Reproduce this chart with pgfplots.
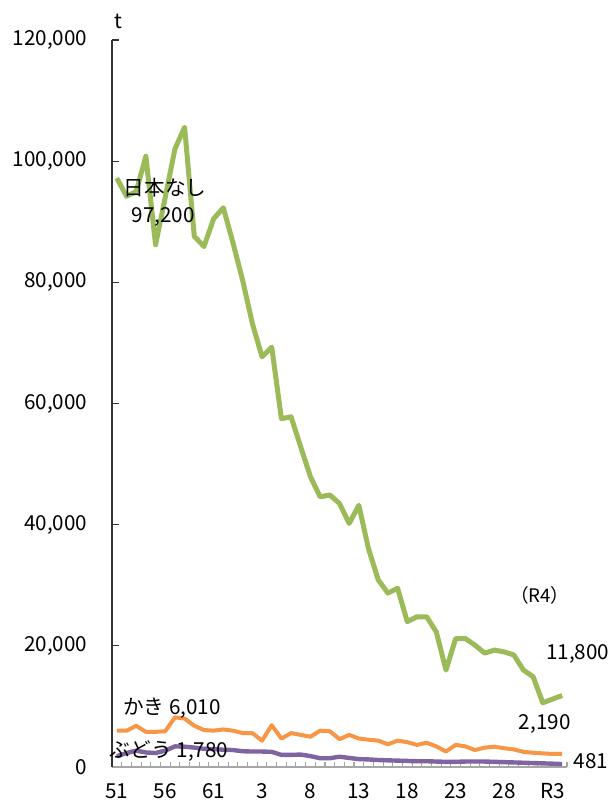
\documentclass[border=0pt]{standalone}
\usepackage{fontspec}
\setmainfont{Noto Sans CJK JP}
\usepackage{pgfplots}
\pgfplotsset{compat=1.18}
\usepackage{pgfplotstable}
\definecolor{nashi}{HTML}{9BBB59}
\definecolor{kaki}{HTML}{F79646}
\definecolor{budo}{HTML}{8064A2}

% i = 0 is S51 (1976), i = 46 is R4 (2022)
\pgfplotstableread{
i nashi kaki budo
0 97200 6010 1780
1 94200 6000 2300
2 95000 6800 2700
3 100800 5800 2400
4 86200 5800 2300
5 94000 5900 2700
6 102000 8200 3400
7 105600 8000 3350
8 87600 6800 3200
9 85900 6100 3000
10 90500 6000 2950
11 92300 6200 2850
12 86500 6000 2800
13 80300 5600 2600
14 73200 5600 2550
15 67700 4350 2550
16 69300 6900 2500
17 57500 4700 2000
18 57800 5600 2000
19 52800 5300 2050
20 47900 5000 1800
21 44600 6000 1450
22 44900 5900 1450
23 43500 4600 1700
24 40200 5300 1500
25 43200 4700 1300
26 36000 4500 1250
27 30900 4350 1150
28 28700 3750 1100
29 29500 4350 1050
30 24000 4100 1000
31 24800 3650 950
32 24800 4000 950
33 22300 3400 900
34 16000 2550 850
35 21200 3650 850
36 21200 3400 900
37 20100 2800 900
38 18800 3200 900
39 19300 3350 850
40 19000 3100 800
41 18500 2900 750
42 16000 2500 700
43 14900 2350 650
44 10600 2250 600
45 11200 2150 550
46 11800 2190 481
}\crops

\begin{document}
\begin{tikzpicture}
\begin{axis}[
  scale only axis,
  width=341.25pt, height=545.25pt,
  xmin=-0.5, xmax=46.5,
  ymin=0, ymax=120000,
  axis x line*=bottom, axis y line*=left,
  x axis line style={draw=gray!70, line width=1pt},
  y axis line style={draw=black!80, line width=0.8pt},
  tick align=inside,
  xtick={0,5,...,45},
  xticklabels={51,56,61,3,8,13,18,23,28,R3},
  major x tick style={draw=none},
  minor xtick={-0.5,0.5,...,46.5},
  minor x tick style={draw=gray!70, line width=0.8pt},
  minor tick length=4pt,
  ytick={0,20000,40000,60000,80000,100000,120000},
  yticklabels={0,{20,000},{40,000},{60,000},{80,000},{100,000},{120,000}},
  major tick length=5pt,
  y tick style={draw=black!80, line width=0.8pt},
  scaled y ticks=false,
  ticklabel style={font=\fontsize{15.5}{18}\selectfont},
  yticklabel style={xshift=-15pt},
  xticklabel style={yshift=-9pt},
  clip=false,
  line join=round,
]
\addplot[color=nashi, line width=3.75pt] table[x=i, y=nashi] {\crops};
\addplot[color=kaki, line width=3pt] table[x=i, y=kaki] {\crops};
\addplot[color=budo, line width=3.3pt] table[x=i, y=budo] {\crops};

\begin{scope}[font=\fontsize{15.5}{18}\selectfont, inner sep=0pt]
\node at (axis cs:4.98,95600) {日本なし};
\node at (axis cs:4.8,90800) {97,200};
\node at (axis cs:5.7,9700) {かき 6,010};
\node at (axis cs:5.4,2640) {ぶどう 1,780};
\node at (axis cs:47.6,18650) {11,800};
\node at (axis cs:44.2,7100) {2,190};
\node at (axis cs:49.0,990) {481};
\node at (axis cs:0.12,123000) {t};
\end{scope}
\node[font=\fontsize{14}{16}\selectfont, inner sep=0pt] at (axis cs:43.7,28400) {（R4）};

\coordinate (bl) at (rel axis cs:-0.24615,-0.04539);
\coordinate (tr) at (rel axis cs:1.09670,1.05502);
\end{axis}
\pgfresetboundingbox
\path[use as bounding box] (bl) rectangle (tr);
\end{tikzpicture}
\end{document}
